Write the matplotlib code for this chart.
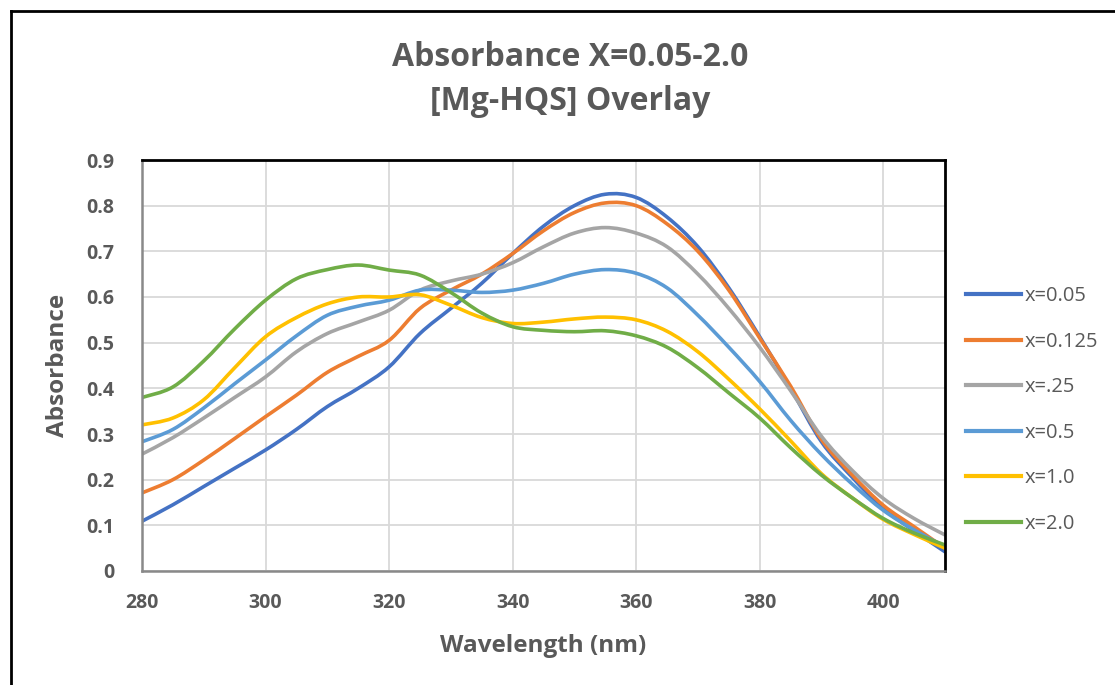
import matplotlib
matplotlib.use("Agg")
import matplotlib.pyplot as plt
from matplotlib.lines import Line2D
from matplotlib.path import Path
from matplotlib.patches import PathPatch

wavelength = [280, 285, 290, 295, 300, 305, 310, 315, 320, 325, 330, 335, 340,
              345, 350, 355, 360, 365, 370, 375, 380, 385, 390, 395, 400, 405, 410]

x_005 = [0.109, 0.145, 0.185, 0.225, 0.265, 0.310, 0.360, 0.400, 0.447, 0.520, 0.575, 0.630, 0.695,
         0.755, 0.800, 0.825, 0.818, 0.775, 0.710, 0.620, 0.513, 0.400, 0.283, 0.205, 0.137, 0.088, 0.042]
x_0125 = [0.171, 0.200, 0.243, 0.290, 0.338, 0.385, 0.435, 0.470, 0.505, 0.575, 0.615, 0.650, 0.695,
          0.745, 0.785, 0.806, 0.800, 0.760, 0.700, 0.615, 0.510, 0.405, 0.288, 0.210, 0.144, 0.097, 0.050]
x_025 = [0.256, 0.292, 0.335, 0.380, 0.425, 0.480, 0.520, 0.545, 0.571, 0.615, 0.635, 0.650, 0.675,
         0.710, 0.740, 0.752, 0.740, 0.710, 0.650, 0.575, 0.490, 0.395, 0.295, 0.220, 0.159, 0.115, 0.079]
x_05 = [0.283, 0.310, 0.357, 0.410, 0.462, 0.515, 0.560, 0.580, 0.593, 0.615, 0.615, 0.610, 0.615,
        0.630, 0.650, 0.660, 0.652, 0.620, 0.560, 0.490, 0.415, 0.330, 0.255, 0.190, 0.133, 0.090, 0.053]
x_10 = [0.320, 0.335, 0.375, 0.445, 0.513, 0.555, 0.585, 0.600, 0.600, 0.605, 0.582, 0.555, 0.542,
        0.545, 0.552, 0.556, 0.550, 0.525, 0.480, 0.420, 0.355, 0.285, 0.213, 0.160, 0.113, 0.080, 0.050]
x_20 = [0.380, 0.403, 0.460, 0.530, 0.593, 0.640, 0.660, 0.670, 0.659, 0.648, 0.610, 0.565, 0.535,
        0.527, 0.524, 0.526, 0.515, 0.490, 0.445, 0.390, 0.335, 0.270, 0.210, 0.160, 0.115, 0.083, 0.057]

series_labels = ["x=0.05", "x=0.125", "x=.25", "x=0.5", "x=1.0", "x=2.0"]
series_values = [x_005, x_0125, x_025, x_05, x_10, x_20]
colors = ["#4472C4", "#ED7D31", "#A5A5A5", "#5B9BD5", "#FFC000", "#70AD47"]

x_ticks = [280, 300, 320, 340, 360, 380, 400]
y_ticks = [0, 0.1, 0.2, 0.3, 0.4, 0.5, 0.6, 0.7, 0.8, 0.9]
y_tick_labels = ["0", "0.1", "0.2", "0.3", "0.4", "0.5", "0.6", "0.7", "0.8", "0.9"]

FONT = ["Open Sans", "DejaVu Sans"]
TXT = "#595959"
W, H = 1115, 685
LW = 2.6


def smooth_path(xs, ys):
    """Excel-style smoothed line: cubic Bezier segments through every data point."""
    pts = list(zip(xs, ys))
    n = len(pts)
    verts = [pts[0]]
    codes = [Path.MOVETO]
    for i in range(n - 1):
        p0 = pts[i - 1] if i > 0 else pts[i]
        p1 = pts[i]
        p2 = pts[i + 1]
        p3 = pts[i + 2] if i + 2 < n else pts[i + 1]
        c1 = (p1[0] + (p2[0] - p0[0]) / 6, p1[1] + (p2[1] - p0[1]) / 6)
        c2 = (p2[0] - (p3[0] - p1[0]) / 6, p2[1] - (p3[1] - p1[1]) / 6)
        verts += [c1, c2, p2]
        codes += [Path.CURVE4] * 3
    return Path(verts, codes)


fig = plt.figure(figsize=(W / 100, H / 100), dpi=100)
ax = fig.add_axes([142 / W, 1 - 571 / H, (945 - 142) / W, (571 - 160) / H])

handles = []
for vals, lab, c in zip(series_values, series_labels, colors):
    patch = PathPatch(smooth_path(wavelength, vals), facecolor="none", edgecolor=c,
                      lw=LW, capstyle="round", joinstyle="round", label=lab)
    ax.add_patch(patch)
    handles.append(Line2D([], [], color=c, lw=3, label=lab))

ax.set_xlim(280, 410)
ax.set_ylim(0, 0.9)
ax.set_xticks(x_ticks)
ax.set_yticks(y_ticks)
ax.set_yticklabels(y_tick_labels)
ax.grid(True, color="#D9D9D9", lw=1.3)
ax.set_axisbelow(True)
ax.tick_params(length=0, labelcolor=TXT)
for lbl in ax.get_xticklabels() + ax.get_yticklabels():
    lbl.set_fontfamily(FONT)
    lbl.set_fontweight("bold")
    lbl.set_fontsize(14)
ax.tick_params(axis="x", pad=16)
ax.tick_params(axis="y", pad=20)

for s in ["top", "right"]:
    ax.spines[s].set_color("black")
    ax.spines[s].set_linewidth(2.0)
for s in ["left", "bottom"]:
    ax.spines[s].set_color("#898989")
    ax.spines[s].set_linewidth(1.8)

ax.set_xlabel("Wavelength (nm)", fontfamily=FONT, fontweight="bold", fontsize=17.5,
              color=TXT, labelpad=15)
ax.set_ylabel("Absorbance", fontfamily=FONT, fontweight="bold", fontsize=17.5,
              color=TXT, labelpad=12)

fig.text(570 / W, 1 - 57 / H, "Absorbance X=0.05-2.0", ha="center", va="center",
         fontfamily=FONT, fontweight="bold", fontsize=23, color=TXT)
fig.text(570 / W, 1 - 102 / H, "[Mg-HQS] Overlay", ha="center", va="center",
         fontfamily=FONT, fontweight="bold", fontsize=23, color=TXT)

leg = ax.legend(handles=handles, loc="upper left", bbox_to_anchor=(966 / W, 1 - 286 / H),
                bbox_transform=fig.transFigure, frameon=False,
                prop={"family": FONT, "size": 14.5}, labelcolor=TXT,
                handlelength=2.75, handletextpad=0.15, labelspacing=1.27,
                borderpad=0, borderaxespad=0)

# outer chart border
fig.add_artist(Line2D([11 / W, 1.0], [1 - 11 / H, 1 - 11 / H], color="black", lw=2,
                      transform=fig.transFigure))
fig.add_artist(Line2D([11 / W, 11 / W], [1 - 11 / H, 0], color="black", lw=2,
                      transform=fig.transFigure))

fig.savefig("out.png", dpi=100, facecolor="white")
